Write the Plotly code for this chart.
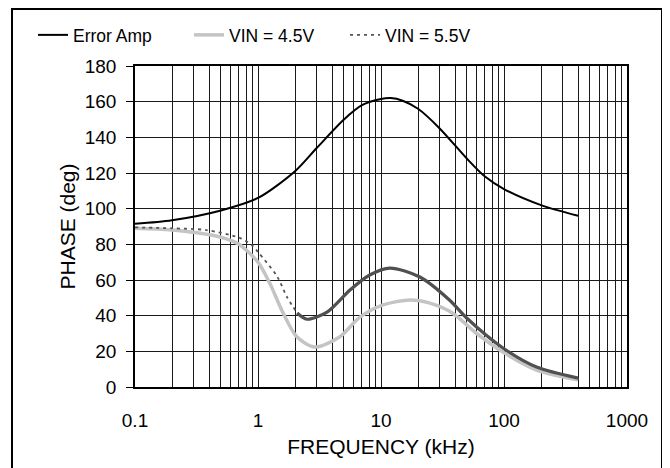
import plotly.graph_objects as go

# ---- data ----
freq_ea = [0.1, 0.2, 0.5, 1, 2, 3, 5, 7, 10, 12, 15, 20, 30, 50, 70, 100, 200, 400]
phase_ea = [91.5, 93.5, 99, 106, 121, 134, 150, 158, 161.5, 162, 160.5, 156, 145, 128, 118, 111, 102, 96]

freq_45 = [0.1, 0.2, 0.5, 0.7, 1, 1.25, 1.6, 2.08, 2.9, 4.6, 6.7, 10.4, 17.2, 25, 38, 60, 98, 184, 400]
phase_45 = [89, 88, 84, 80, 70, 58, 41.5, 28, 22.4, 28, 39, 46, 48.8, 47, 41.5, 30, 19.6, 9.5, 4]

freq_55 = [0.1, 0.2, 0.38, 0.71, 0.89, 1.0, 1.43, 1.72, 2.08, 2.5, 3.64, 5.6, 8.1, 11.8, 20.7, 36, 49.7, 98, 184, 400]
phase_55 = [89.5, 89, 88, 83.6, 79.6, 75.7, 62, 50.5, 41.5, 38, 42, 54.4, 62.8, 66.7, 61.7, 48.8, 38.7, 21.9, 11.2, 5]
split_55 = 8  # index where the dotted part turns into the solid part

x_tickvals = [m * 10 ** e for e in (-1, 0, 1, 2) for m in range(1, 10)] + [1000]
x_labels = {0.1: "0.1", 1: "1", 10: "10", 100: "100", 1000: "1000"}
x_ticktext = [x_labels.get(v, "") for v in x_tickvals]
y_tickvals = list(range(0, 181, 20))

FONT = "Liberation Sans, Arial, sans-serif"

fig = go.Figure()
fig.add_trace(go.Scatter(x=freq_ea, y=phase_ea, mode="lines", name="Error Amp",
                         line=dict(color="#000000", width=2, shape="spline", smoothing=0.8)))
fig.add_trace(go.Scatter(x=freq_45, y=phase_45, mode="lines", name="VIN = 4.5V",
                         line=dict(color="#c4c4c4", width=3.5, shape="spline", smoothing=0.8)))
fig.add_trace(go.Scatter(x=freq_55[split_55:], y=phase_55[split_55:], mode="lines", showlegend=False,
                         line=dict(color="#505050", width=3.2, shape="spline", smoothing=0.8)))
fig.add_trace(go.Scatter(x=freq_55[:split_55 + 1], y=phase_55[:split_55 + 1], mode="lines", name="VIN = 5.5V",
                         line=dict(color="#555555", width=1.8, dash="3px,4px", shape="spline", smoothing=0.8)))

fig.update_layout(
    width=670, height=468,
    margin=dict(l=127, r=51, t=58, b=89, autoexpand=False),
    paper_bgcolor="white", plot_bgcolor="white",
    font=dict(family=FONT, size=19, color="#000000"),
    showlegend=True,
    legend=dict(orientation="h", xref="container", yref="container",
                x=25 / 670, y=1 - 27 / 468, xanchor="left", yanchor="middle",
                font=dict(size=17.5), entrywidth=111, entrywidthmode="pixels",
                bgcolor="rgba(0,0,0,0)", traceorder="normal"),
    shapes=[dict(type="rect", xref="paper", yref="paper",
                 x0=(12 - 135) / 492, x1=(662 - 135) / 492,
                 y0=-0.3, y1=(387 - 9) / 321,
                 line=dict(color="#000000", width=2), layer="below")],
)
fig.update_xaxes(type="log", range=[-1, 3], tickvals=x_tickvals, ticktext=x_ticktext,
                 showgrid=True, gridcolor="#1a1a1a", gridwidth=1,
                 showline=True, linecolor="#000000", linewidth=1.5, mirror=True,
                 ticks="", ticklabelstandoff=15,
                 title=dict(text="FREQUENCY (kHz)", font=dict(size=21), standoff=10),
                 zeroline=False)
fig.update_yaxes(range=[0, 180], tickvals=y_tickvals,
                 showgrid=True, gridcolor="#1a1a1a", gridwidth=1,
                 showline=True, linecolor="#000000", linewidth=1.5, mirror=True,
                 ticks="outside", ticklen=7, tickcolor="#000000", ticklabelstandoff=6,
                 title=dict(text="PHASE (deg)", font=dict(size=21), standoff=3),
                 zeroline=False)

fig.write_html("out.html")
